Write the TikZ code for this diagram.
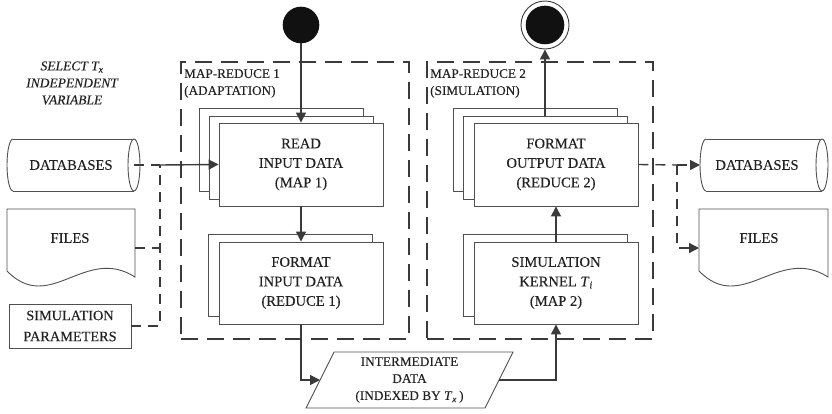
\documentclass[tikz,border=0pt]{standalone}
\usepackage{fontspec}
\setmainfont{Liberation Serif}[UprightFeatures={FakeBold=0.15}, ItalicFeatures={FakeBold=0.15}]
\usetikzlibrary{arrows.meta}
\definecolor{ln}{HTML}{3A3A3A}
\definecolor{bx}{HTML}{505050}
\definecolor{tx}{HTML}{222222}
\definecolor{dot}{HTML}{111111}
\begin{document}
\begin{tikzpicture}[x=1pt,y=-1pt,
  every node/.style={text=tx},
  proc/.style={draw=bx, line width=0.9pt, fill=white, minimum width=164pt, minimum height=83pt, inner sep=0pt, align=center, font=\fontsize{14.6}{19.5}\selectfont},
  ghost/.style={draw=bx, line width=0.9pt, fill=white, minimum width=164pt, minimum height=83pt, inner sep=0pt},
  group/.style={draw=ln, line width=1.4pt, dash pattern=on 17pt off 9pt, minimum height=277pt, inner sep=0pt},
  flow/.style={draw=ln, line width=1.4pt, -{Triangle[length=10pt,width=10pt]}},
  dflow/.style={draw=ln, line width=1.4pt, dash pattern=on 10pt off 7pt},
  tip/.style={-{Triangle[length=10pt,width=10pt]}},
  store/.style={draw=bx, line width=0.9pt, fill=white},
  lbl/.style={font=\fontsize{14.6}{19.5}\selectfont, align=center, inner sep=0pt},
  grplbl/.style={anchor=north west, align=left, inner sep=0pt, font=\fontsize{13.2}{17}\selectfont},
]
\useasboundingbox (0,0) rectangle (832,414);

% group frames
\node[group, minimum width=228pt] (mr1) at (295,200.5) {};
\node[group, minimum width=226pt] (mr2) at (540,200.5) {};
\node[grplbl] (mr1lab) at (184,69) {MAP-REDUCE 1\\(ADAPTATION)};
\node[grplbl] (mr2lab) at (430,69) {MAP-REDUCE 2\\(SIMULATION)};

% start / end
\node[circle, fill=dot, minimum size=36.6pt, inner sep=0pt] (start) at (301,25) {};
\node[circle, draw=ln, line width=0.9pt, minimum size=48pt, inner sep=0pt] (end) at (545,25) {};
\fill[dot] (end.center) circle[radius=19.3pt];

% map-reduce 1
\node[ghost] (rd3) at (281,149.5) {};
\node[ghost] (rd2) at (291,157.5) {};
\node[proc] (read) at (301,164.5) {READ\\INPUT DATA\\(MAP 1)};
\node[ghost, minimum height=82pt] (fi2) at (290,275) {};
\node[proc, minimum height=82pt] (fmtin) at (301,283) {FORMAT\\INPUT DATA\\(REDUCE 1)};

% map-reduce 2
\node[ghost] (fo3) at (535,149.5) {};
\node[ghost] (fo2) at (545,157.5) {};
\node[proc] (fmtout) at (556,164.5) {FORMAT\\OUTPUT DATA\\(REDUCE 2)};
\node[ghost, minimum height=82pt] (kn2) at (545,275) {};
\node[proc, minimum height=82pt] (kernel) at (556,283) {SIMULATION\\KERNEL \textit{T}\textsubscript{\textit{i}}\\(MAP 2)};

% intermediate data
\draw[store] (306,408) -- (334,352) -- (513,352) -- (485,408) -- cycle;
\node[lbl, font=\fontsize{13.3}{17}\selectfont] (inter) at (409.5,380) {INTERMEDIATE\\DATA\\(INDEXED BY \textit{T}\textsubscript{\textit{x}}\,)};
\coordinate (pin) at (320,380);
\coordinate (pout) at (499,380);

% left inputs
\node[lbl, font=\fontsize{13.5}{17}\selectfont\itshape] (sel) at (72,83) {SELECT \textit{T}\textsubscript{x}\\INDEPENDENT\\VARIABLE};
\draw[store] (13,139) -- (134,139) (13,191) -- (134,191);
\draw[store] (134,165) ellipse [x radius=6pt, y radius=26pt];
\draw[store] (13,139) arc[start angle=90, end angle=270, x radius=6pt, y radius=26pt];
\node[lbl] (db1) at (71,165) {DATABASES};
\coordinate (db1e) at (134,165);

\draw[store] (7,209) -- (135,209) -- (135,277) .. controls (85,245) and (50,315) .. (7,271) -- cycle;
\node[lbl] (files1) at (70,238) {FILES};
\coordinate (f1e) at (135,248);

\node[store, minimum width=122pt, minimum height=44pt, align=center, inner sep=0pt, font=\fontsize{14.3}{21}\selectfont] (parm) at (70,326) {SIMULATION\\PARAMETERS};

\coordinate (j1) at (160,165);

% right outputs
\draw[store] (706,139) -- (822,139) (706,191) -- (822,191);
\draw[store] (822,165) ellipse [x radius=6pt, y radius=26pt];
\draw[store] (706,139) arc[start angle=90, end angle=270, x radius=6pt, y radius=26pt];
\node[lbl] (db2) at (757,165) {DATABASES};
\coordinate (db2w) at (700,165);

\draw[store] (699,209) -- (828,209) -- (828,277) .. controls (778,245) and (742,315) .. (699,271) -- cycle;
\node[lbl] (files2) at (759,238) {FILES};
\coordinate (f2w) at (699,248);
\coordinate (j2) at (677,165);

% connectors
\draw[flow] (start.south) -- (read.north);
\draw[flow] (read.south) -- (fmtin.north);
\draw[flow] (fmtin.south) |- (pin);
\draw[flow] (pout) -| (kernel.south);
\draw[flow] (kernel.north) -- (fmtout.south);
\draw[flow] (fo2.north) -- (end.south);

\draw[dflow] (db1e) -- (j1);
\draw[dflow] (f1e) -- (f1e -| j1);
\draw[dflow] (parm.east) -| (j1);
\draw[flow] (j1) -- (read.west);

\draw[dflow] (fmtout.east) -- (j2);
\draw[dflow, tip] (j2) -- (db2w);
\draw[dflow, tip] (j2) |- (f2w);
\end{tikzpicture}
\end{document}
